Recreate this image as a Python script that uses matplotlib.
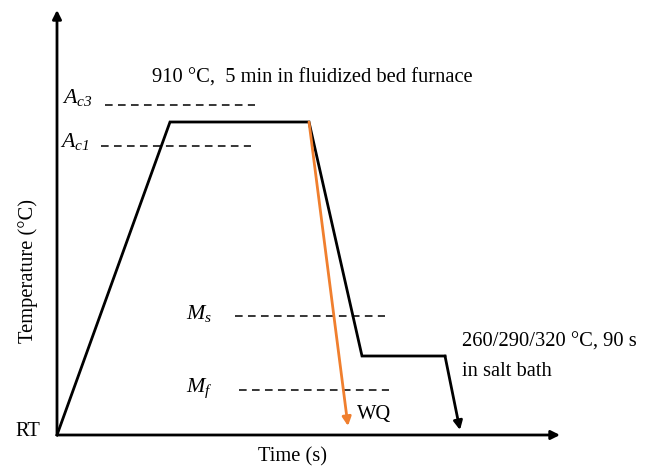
import matplotlib.pyplot as plt

# schematic heat-treatment route (arbitrary units, origin at RT / t=0)
route_t = [0, 113, 252, 305, 388, 403]
route_T = [0, 313, 313, 79, 79, 5]
wq_t = [252, 291]
wq_T = [313, 9]

crit_names = [r'$A_{c3}$', r'$A_{c1}$', r'$M_{s}$', r'$M_{f}$']
crit_T = [330, 289, 119, 45]
crit_start = [48, 44, 178, 182]
crit_end = [198, 194, 328, 332]
label_x = [36, 33, 155, 156]
label_y = [338, 293, 122, 47]

plt.rcParams['font.family'] = ['Liberation Serif', 'DejaVu Serif']
plt.rcParams['mathtext.fontset'] = 'custom'
plt.rcParams['mathtext.it'] = 'Liberation Serif:italic'
plt.rcParams['mathtext.rm'] = 'Liberation Serif:italic'  # italic digits in subscripts

fig = plt.figure(figsize=(6.52, 4.7), dpi=100)
ax = fig.add_axes([0, 0, 1, 1])
ax.set_xlim(-57, 595)
ax.set_ylim(-35, 435)
ax.axis('off')

fs = 14.8

# axes with arrows
ax.annotate('', xy=(0, 425), xytext=(0, 0),
            arrowprops=dict(arrowstyle='-|>', lw=2, color='black', mutation_scale=13, shrinkA=0, shrinkB=0))
ax.annotate('', xy=(503, 0), xytext=(0, 0),
            arrowprops=dict(arrowstyle='-|>', lw=2, color='black', mutation_scale=13, shrinkA=0, shrinkB=0))

# critical temperatures
for name, T, x0, x1, lx, ly in zip(crit_names, crit_T, crit_start, crit_end, label_x, label_y):
    ax.plot([x0, x1], [T, T], color='black', lw=1.1, dashes=(5, 3.5))
    ax.text(lx, ly, name, fontsize=fs + 1, ha='right', va='center')

# main route
ax.plot(route_t[:-1], route_T[:-1], color='black', lw=2, solid_joinstyle='miter')
ax.annotate('', xy=(route_t[-1], route_T[-1]), xytext=(route_t[-2], route_T[-2]),
            arrowprops=dict(arrowstyle='-|>', lw=2, color='black', mutation_scale=13, shrinkA=0, shrinkB=0))

# water quench
ax.annotate('', xy=(wq_t[1], wq_T[1]), xytext=(wq_t[0], wq_T[0]),
            arrowprops=dict(arrowstyle='-|>', lw=2, color='#F07F2E', mutation_scale=13, shrinkA=0, shrinkB=0))

ax.text(95, 357, '910 °C,  5 min in fluidized bed furnace', fontsize=fs, ha='left', va='center')
ax.text(405, 93, '260/290/320 °C, 90 s', fontsize=fs, ha='left', va='center')
ax.text(405, 64, 'in salt bath', fontsize=fs, ha='left', va='center')
ax.text(300, 20, 'WQ', fontsize=fs, ha='left', va='center')
ax.text(-17, 4, 'RT', fontsize=fs, ha='right', va='center')
ax.text(236, -22, 'Time (s)', fontsize=fs, ha='center', va='center')
ax.text(-29, 164, 'Temperature (°C)', fontsize=fs, ha='center', va='center', rotation=90)

fig.savefig('out.png', dpi=100)
